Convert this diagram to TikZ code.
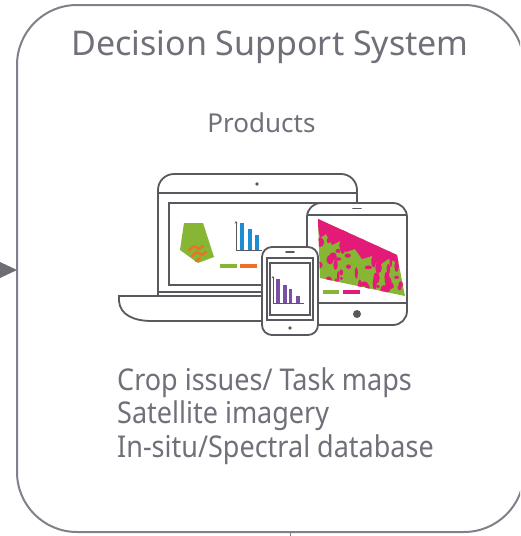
\documentclass[tikz,border=0pt]{standalone}
\usepackage{fontspec}
\setmainfont{Noto Sans}
\newfontfamily\itemfont{Noto Sans}[FakeStretch=0.9]
\usetikzlibrary{arrows.meta}
\definecolor{framegray}{RGB}{128,128,138}
\definecolor{textgray}{RGB}{112,112,122}
\definecolor{devgray}{RGB}{88,88,94}
\definecolor{mapgreen}{RGB}{134,182,52}
\definecolor{maporange}{RGB}{240,110,40}
\definecolor{barblue}{RGB}{30,140,210}
\definecolor{barpurple}{RGB}{120,80,165}
\definecolor{mappink}{RGB}{228,26,120}
\begin{document}
\begin{tikzpicture}[x=1pt,y=-1pt,
  boxframe/.style={draw=framegray, line width=2pt, rounded corners=60pt},
  devbody/.style={draw=devgray, line width=1.8pt, fill=white},
  devline/.style={draw=devgray, line width=1.8pt},
  axisline/.style={draw=devgray, line width=0.9pt},
  titletext/.style={text=textgray, inner sep=0pt, anchor=base, font=\fontsize{34}{38}\selectfont},
  subtext/.style={text=textgray, inner sep=0pt, anchor=base, font=\fontsize{26}{30}\selectfont},
  itemtext/.style={text=textgray, inner sep=0pt, anchor=base west, font=\itemfont\fontsize{30}{33}\selectfont},
]
\clip (0,0) rectangle (520,536);
\fill[white] (0,0) rectangle (520,536);

% outer system box and incoming arrow head
\draw[boxframe] (17,5) rectangle (524,532);
\coordinate (inarrow) at (17,270);
\fill[framegray!85!black] (0,262) -- (inarrow) -- (0,278) -- cycle;
\coordinate (outtick) at (290,533);
\draw[framegray, line width=1pt] (outtick) -- (290,536);

% headings
\node[titletext] (dss) at (270,55) {Decision Support System};
\node[subtext] (prod) at (261.5,132) {Products};

% ---------- laptop ----------
\draw[devline, rounded corners=16pt] (158,296) -- (158,174) -- (357,174) -- (357,296);
\draw[devline] (158,193) -- (357,193);
\fill[devgray] (257,184) circle (1.8);
\draw[devline] (169,203) rectangle (348,285);
\draw[devline] (158,292) -- (357,292);
\draw[devline] (390,296) -- (119,296) -- (119,301) .. controls (120,315) and (134,321) .. (152,321) -- (390,321) -- cycle;

% laptop screen: field map
\fill[mapgreen] (184,223) -- (203,223) -- (214,257) -- (198,263) -- (180,250) -- cycle;
\draw[maporange, line width=2.4pt, line cap=round, line join=round]
  (189,250) -- (194,246) -- (199,249) -- (203,246);
\draw[maporange, line width=2.4pt, line cap=round, line join=round]
  (192,256) -- (197,252) -- (202,255) -- (206,252);
\draw[maporange, line width=2.4pt, line cap=round] (196,261) -- (200,258);
\fill[mapgreen] (220,264) rectangle (237,268);
\fill[maporange] (240,264) rectangle (257,268);

% laptop screen: bar chart
\fill[barblue] (240,223) rectangle (244,250);
\fill[barblue] (248,229) rectangle (252,250);
\fill[barblue] (255,235) rectangle (259,250);
\draw[axisline, -{Stealth[length=2.5pt,width=2.5pt]}] (236,250) -- (236,221);
\draw[axisline] (236,250) -- (262,250);

% ---------- tablet ----------
\draw[devbody, rounded corners=14pt] (307,203) rectangle (407,325);
\draw[devline] (307,215) -- (407,215);
\draw[devline] (307,303) -- (407,303);
\draw[devline, line cap=round] (353,208.5) -- (361,208.5);
\fill[devgray] (357,314) circle (4);

% tablet screen: classified field
\begin{scope}
  \clip (318,219) -- (397,255) -- (405,296) -- (320,278) -- cycle;
  \fill[mapgreen] (300,200) rectangle (420,310);
  \fill[mappink] (316,217) -- (399,254) -- (399,263) -- (388,259) -- (380,265) -- (372,256)
     -- (362,259) -- (355,249) -- (346,252) -- (340,241) -- (332,245) -- (326,234)
     -- (320,238) -- cycle;
  \pgfmathsetseed{17}
  \foreach \i in {1,...,90} {
    \pgfmathsetmacro\px{318+86*rnd}
    \pgfmathsetmacro\py{222+70*rnd}
    \pgfmathsetmacro\rx{1.2+2.8*rnd}
    \pgfmathsetmacro\ry{1.5+4.5*rnd}
    \fill[mappink] (\px,\py) ellipse ({\rx} and {\ry});
  }
\end{scope}
\fill[mapgreen] (323,290) rectangle (339,294);
\fill[mappink] (343,290) rectangle (360,294);

% ---------- phone ----------
\draw[devbody, rounded corners=10pt] (262,247) rectangle (318,335);
\draw[devline, line cap=round] (286,252) -- (294,252);
\draw[devline] (267,258) rectangle (313,320);
\draw[devline] (270,263) rectangle (310,315);
\fill[devgray] (290,328) circle (1.8);

% phone screen: bar chart
\fill[barpurple] (276,279) rectangle (280,303);
\fill[barpurple] (283,285) rectangle (287,303);
\fill[barpurple] (289,289) rectangle (292,303);
\fill[barpurple] (296,296) rectangle (300,303);
\draw[axisline, -{Stealth[length=2.5pt,width=2.5pt]}] (273,303) -- (273,276);
\draw[axisline] (273,303) -- (304,303);

% product list
\node[itemtext] (crop) at (117,390) {Crop issues/ Task maps};
\node[itemtext] (sat) at (117,423.5) {Satellite imagery};
\node[itemtext] (insitu) at (117,457) {In-situ/Spectral database};
\end{tikzpicture}
\end{document}
